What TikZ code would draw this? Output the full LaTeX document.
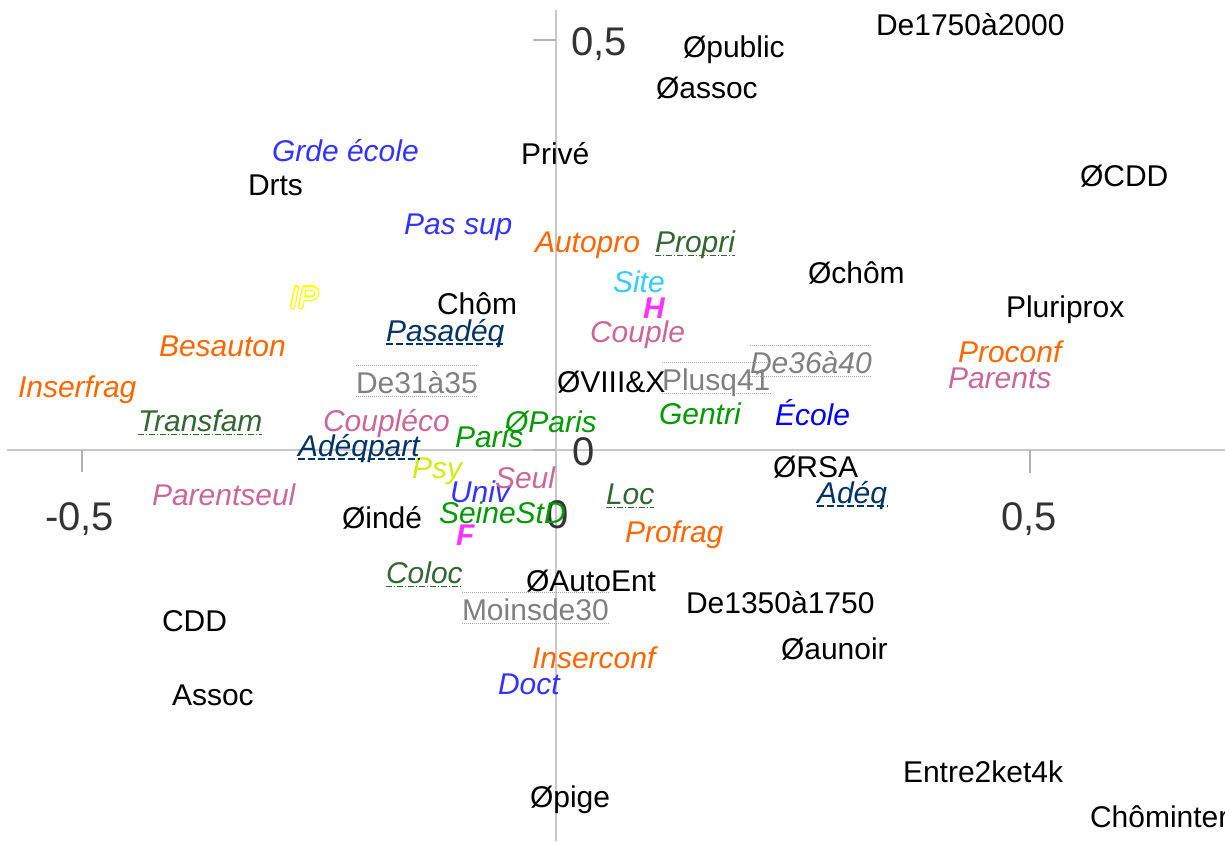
\documentclass[tikz,border=0pt]{standalone}
\usepackage{fontspec}
\setmainfont{Liberation Sans}
\usepackage{contour}
\contourlength{1.2pt}
\definecolor{orng}{HTML}{FF6600}
\definecolor{blu}{HTML}{3333FF}
\definecolor{pureblu}{HTML}{0000FF}
\definecolor{pnk}{HTML}{CC6699}
\definecolor{grn}{HTML}{009900}
\definecolor{dgrn}{HTML}{336633}
\definecolor{dblu}{HTML}{003366}
\definecolor{gry}{HTML}{808080}
\definecolor{cyn}{HTML}{33CCFF}
\definecolor{mag}{HTML}{FF33FF}
\definecolor{lime}{HTML}{CCEE11}
\definecolor{ylw}{HTML}{FFFF00}
\definecolor{axisc}{HTML}{C8C8C8}
\definecolor{tickc}{HTML}{B4B4B4}
\definecolor{numc}{HTML}{333333}
\newcommand\lab{\fontsize{30}{34}\selectfont}
\tikzset{
  lbl/.style={anchor=base west, inner sep=0pt, outer sep=0pt, font=\lab},
  blk/.style={lbl, text=black},
  ital/.style={lbl, font=\lab\itshape},
  org/.style={ital, text=orng},
  bluit/.style={ital, text=blu},
  pnkit/.style={ital, text=pnk},
  grnit/.style={ital, text=grn},
  dgrnit/.style={ital, text=dgrn},
  dbluit/.style={ital, text=dblu},
  gryup/.style={lbl, text=gry},
  num/.style={anchor=base west, inner sep=0pt, font=\fontsize{40}{44}\selectfont, text=numc},
  axisline/.style={draw=axisc, line width=1.5pt},
  tickline/.style={draw=tickc, line width=1.5pt},
  ulblue/.style={draw=dblu, line width=1.2pt, dash pattern=on 7pt off 3pt},
  ulgreen/.style={draw=dgrn, line width=1pt, dash pattern=on 6pt off 2pt on 1pt off 2pt},
  dotgray/.style={draw=gray!70, line width=1pt, dash pattern=on 1pt off 1pt},
}
\begin{document}
\begin{tikzpicture}[x=1pt, y=-1pt]
\useasboundingbox (0,0) rectangle (1225,841);
% axes
\coordinate (hl) at (7,450); \coordinate (hr) at (1225,450);
\coordinate (vt) at (556,10); \coordinate (vb) at (556,841);
\draw[axisline] (hl) -- (hr);
\draw[axisline] (vt) -- (vb);
\coordinate (t1a) at (82,450); \coordinate (t1b) at (82,472);
\coordinate (t2a) at (1030,450); \coordinate (t2b) at (1030,473);
\coordinate (t3a) at (533,40); \coordinate (t3b) at (556,40);
\coordinate (t4a) at (533,450); \coordinate (t4b) at (556,450);
\draw[tickline] (t1a) -- (t1b);
\draw[tickline] (t2a) -- (t2b);
\draw[tickline] (t3a) -- (t3b);
\draw[tickline] (t4a) -- (t4b);
% axis numbers
\node[num] (ny5) at (571,55) {0,5};
\node[num] (ny0) at (572,465) {0};
\node[num] (nx0) at (546,528) {0};
\node[num] (nxm) at (45,530) {-0,5};
\node[num] (nxp) at (1001,530) {0,5};
% black labels
\node[blk] (opublic) at (683,57) {Øpublic};
\node[blk] (de1750) at (876,35) {De1750à2000};
\node[blk] (oassoc) at (656,98) {Øassoc};
\node[blk] (prive) at (521,164) {Privé};
\node[blk] (drts) at (248,195) {Drts};
\node[blk] (ocdd) at (1080,186) {ØCDD};
\node[blk] (ochom) at (808,283) {Øchôm};
\node[blk] (chom) at (437,314) {Chôm};
\node[blk] (pluri) at (1006,317) {Pluriprox};
\node[blk] (oviii) at (557,392) {ØVIII\&X};
\node[blk] (orsa) at (773,477) {ØRSA};
\node[blk] (oinde) at (342,528) {Øindé};
\node[blk] (oauto) at (526,591) {ØAutoEnt};
\node[blk] (de1350) at (686,613) {De1350à1750};
\node[blk] (cdd) at (162,631) {CDD};
\node[blk] (oaunoir) at (781,659) {Øaunoir};
\node[blk] (assoc) at (172,705) {Assoc};
\node[blk] (entre) at (903,782) {Entre2ket4k};
\node[blk] (opige) at (530,807) {Øpige};
\node[blk] (chominter) at (1090,827) {Chôminter};
% blue italic
\node[bluit] (grde) at (272,161) {Grde école};
\node[bluit] (passup) at (404,234) {Pas sup};
\node[bluit] (univ) at (450,502) {Univ};
\node[bluit] (doct) at (498,694) {Doct};
\node[ital, text=pureblu] (ecole) at (775,425) {École};
% orange italic
\node[org] (autopro) at (535,252) {Autopro};
\node[org] (besauton) at (159,356) {Besauton};
\node[org] (inserfrag) at (18,397) {Inserfrag};
\node[org] (proconf) at (958,362) {Proconf};
\node[org] (profrag) at (625,542) {Profrag};
\node[org] (inserconf) at (532,668) {Inserconf};
% pink italic
\node[pnkit] (couple) at (590,342) {Couple};
\node[pnkit] (parents) at (948,388) {Parents};
\node[pnkit] (coupleco) at (323,431) {Coupléco};
\node[pnkit] (seul) at (495,488) {Seul};
\node[pnkit] (parentseul) at (152,505) {Parentseul};
% green italic
\node[grnit] (gentri) at (659,424) {Gentri};
\node[grnit] (oparis) at (505,432) {ØParis};
\node[grnit] (paris) at (455,447) {Paris};
\node[grnit] (seine) at (439,523) {SeineStD};
% dark green with dash-dot underline
\node[dgrnit] (propri) at (655,252) {Propri};
\node[dgrnit] (transfam) at (138,431) {Transfam};
\node[dgrnit] (loc) at (606,504) {Loc};
\node[dgrnit] (coloc) at (386,583) {Coloc};
% dark blue with dashed underline
\node[dbluit] (pasadeq) at (386,341) {Pasadéq};
\node[dbluit] (adeqpart) at (298,456) {Adéqpart};
\node[dbluit] (adeq) at (817,503) {Adéq};
% gray with dotted over/underline
\node[ital, text=gry] (de36) at (750,373) {De36à40};
\node[gryup] (plusq) at (662,390) {Plusq41};
\node[gryup] (de31) at (356,393) {De31à35};
\node[gryup] (moins) at (462,620) {Moinsde30};
% others
\node[ital, text=cyn] (site) at (613,292) {Site};
\node[lbl, font=\lab\bfseries\itshape, text=mag] (h) at (643,318) {H};
\node[lbl, font=\lab\bfseries\itshape, text=mag] (f) at (456,545) {F};
\node[ital, text=lime] (psy) at (412,478) {Psy};
\node[ital] (ip) at (290,308) {\contour{ylw}{\textcolor{white}{IP}}};
% underlines
\foreach \n in {propri, transfam, loc, coloc}
  \draw[ulgreen] ([yshift=-3pt]\n.base west) -- ([yshift=-3pt]\n.base east);
\foreach \n in {pasadeq, adeqpart, adeq}
  \draw[ulblue] ([yshift=-3pt]\n.base west) -- ([yshift=-3pt]\n.base east);
\foreach \n in {de36, plusq, de31, moins} {
  \draw[dotgray] ([yshift=-3.5pt]\n.base west) -- ([yshift=-3.5pt]\n.base east);
  \draw[dotgray] ([yshift=28pt]\n.base west) -- ([yshift=28pt]\n.base east);
}
\end{tikzpicture}
\end{document}
